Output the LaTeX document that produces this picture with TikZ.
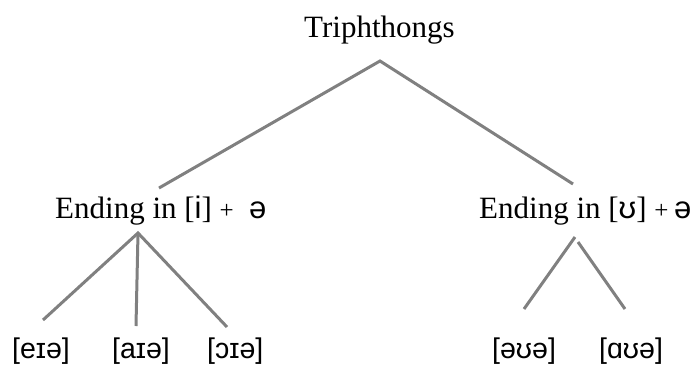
\documentclass[tikz,border=0pt]{standalone}
\usepackage{fontspec}
\setmainfont{Liberation Serif}
\newfontfamily\ipafont{Liberation Sans}
\newcommand{\smallplus}{{\fontsize{25}{28}\selectfont +}}
\begin{document}
\begin{tikzpicture}[x=1pt,y=-1pt,
  lbl/.style={anchor=base west,inner sep=0pt,font=\fontsize{31}{36}\selectfont},
  ipa/.style={anchor=base west,inner sep=0pt,font=\fontsize{28.5}{32}\selectfont\ipafont},
  branch/.style={draw=black!50,line width=3pt}]
\useasboundingbox (0,0) rectangle (693,365);
\node[lbl] (top) at (304,37) {Triphthongs};
\node[lbl] (left) at (55,218) {Ending in [{\ipafont i}] \smallplus\ \ {\ipafont ə}};
\node[lbl] (right) at (479,218) {Ending in [{\ipafont ʊ}] \smallplus\kern-2pt\ {\ipafont ə}};
\node[ipa] (b1) at (12,358) {[eɪə]};
\node[ipa] (b2) at (112,358) {[aɪə]};
\node[ipa] (b3) at (207,358) {[ɔɪə]};
\node[ipa] (b4) at (492,358) {[əʊə]};
\node[ipa] (b5) at (599,358) {[ɑʊə]};
\coordinate (ta) at (380,61);
\coordinate (ta1) at (159,188);
\coordinate (ta2) at (573,184);
\coordinate (la) at (138,233);
\coordinate (l1) at (43,320);
\coordinate (l2) at (136,326);
\coordinate (l3) at (227,327);
\coordinate (ra1) at (575,237);
\coordinate (ra2) at (578,242);
\coordinate (r1) at (524,309);
\coordinate (r2) at (625,309);
\draw[branch] (ta1) -- (ta) -- (ta2);
\draw[branch] (l1) -- (la) -- (l3);
\draw[branch] (la) -- (l2);
\draw[branch] (ra1) -- (r1);
\draw[branch] (ra2) -- (r2);
\end{tikzpicture}
\end{document}
